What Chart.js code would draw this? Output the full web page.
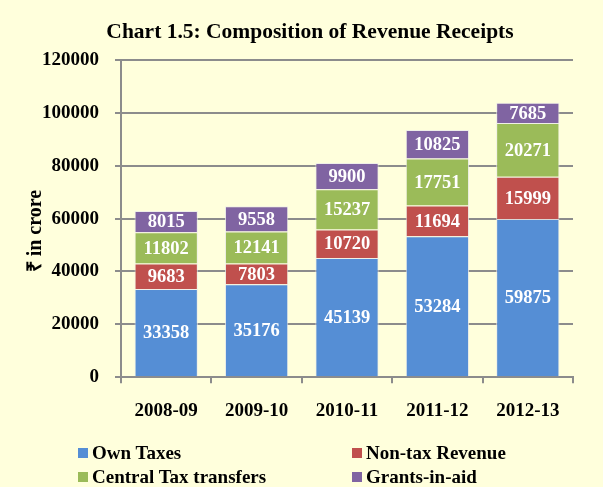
<!DOCTYPE html>
<html>
<head>
<meta charset="utf-8">
<script src="https://cdn.jsdelivr.net/npm/chart.js@4.4.1/dist/chart.umd.min.js"></script>
<style>
  body { margin: 0; background: #FFFFDC; }
  #wrap { position: relative; width: 603px; height: 487px; background: #FFFFDC; }
  #title {
    position: absolute; left: 0; top: 19px; width: 620px; text-align: center;
    font: bold 21.5px "Liberation Serif", "Times New Roman", serif; line-height: 24px; color: #000;
  }
  #legend {
    position: absolute; left: 78px; top: 441px; width: 520px;
    display: grid; grid-template-columns: 274px 240px;
    font: bold 19px "Liberation Serif", "Times New Roman", serif; color: #000;
  }
  #legend div { display: flex; align-items: center; height: 24px; white-space: nowrap; }
  #legend span.box { display: inline-block; width: 10px; height: 10px; margin-right: 4px; }
</style>
</head>
<body>
<div id="wrap">
  <canvas id="chart" width="603" height="487"></canvas>
  <div id="title">Chart 1.5: Composition of Revenue Receipts</div>
  <div id="legend"></div>
</div>
<script>
// data
const years = [ "2008-09", "2009-10", "2010-11", "2011-12", "2012-13" ];
const ownTaxes = [ 33358, 35176, 45139, 53284, 59875 ];
const nonTaxRevenue = [ 9683, 7803, 10720, 11694, 15999 ];
const centralTaxTransfers = [ 11802, 12141, 15237, 17751, 20271 ];
const grantsInAid = [ 8015, 9558, 9900, 10825, 7685 ];

const seriesNames = [ "Own Taxes", "Non-tax Revenue", "Central Tax transfers", "Grants-in-aid" ];
const seriesColors = [ "#558ED5", "#C0504D", "#9BBB59", "#8064A2" ];
const seriesValues = [ ownTaxes, nonTaxRevenue, centralTaxTransfers, grantsInAid ];

const serif = "'Liberation Serif', 'Times New Roman', serif";

// white value labels in the middle of every segment
const segmentLabels = {
  id: "segmentLabels",
  afterDatasetsDraw( chart ) {
    let ctx = chart.ctx;
    ctx.save();
    ctx.font = "bold 18.5px " + serif;
    ctx.fillStyle = "#ffffff";
    ctx.textAlign = "center";
    ctx.textBaseline = "middle";
    chart.data.datasets.forEach( ( ds, i ) => {
      chart.getDatasetMeta( i ).data.forEach( ( bar, j ) => {
        ctx.fillText( ds.data[ j ], bar.x, ( bar.y + bar.base ) / 2 + 1 );
      } );
    } );
    ctx.restore();
  }
};

let datasets = seriesNames.map( ( name, i ) => ( {
  label: name,
  data: seriesValues[ i ],
  backgroundColor: seriesColors[ i ],
  borderColor: "rgba(235,235,235,0.8)",
  borderWidth: 1,
  categoryPercentage: 0.7,
  barPercentage: 1
} ) );

new Chart( document.getElementById( "chart" ), {
  type: "bar",
  data: { labels: years, datasets: datasets },
  plugins: [ segmentLabels ],
  options: {
    responsive: false,
    animation: false,
    layout: { padding: { left: 2, right: 30, top: 60, bottom: 49 } },
    plugins: {
      legend: { display: false },
      tooltip: { enabled: false }
    },
    scales: {
      x: {
        stacked: true,
        grid: { drawOnChartArea: false, drawTicks: true, tickLength: 6, color: "#8c8c8c", lineWidth: 2 },
        border: { color: "#8c8c8c", width: 2 },
        ticks: { color: "#000", padding: 16, font: { family: serif, size: 19, weight: "bold" } }
      },
      y: {
        stacked: true,
        min: 0,
        max: 120000,
        grid: { color: "#8c8c8c", lineWidth: 2, tickLength: 6 },
        border: { color: "#8c8c8c", width: 2 },
        ticks: {
          stepSize: 20000,
          color: "#000",
          padding: 16,
          font: { family: serif, size: 19, weight: "bold" },
          callback: ( value ) => value
        },
        title: {
          display: true,
          // trailing spaces push the rotated text a little lower, as in the original
          text: "\u20B9 in crore     ",
          color: "#000",
          font: { family: serif, size: 20, weight: "bold" },
          padding: { top: 22, bottom: -22 }
        }
      }
    }
  }
} );

// two column legend like the original
let legend = document.getElementById( "legend" );
[ 0, 1, 2, 3 ].forEach( ( i ) => {
  let item = document.createElement( "div" );
  item.innerHTML = "<span class='box' style='background:" + seriesColors[ i ] + "'></span>" + seriesNames[ i ];
  legend.appendChild( item );
} );
</script>
</body>
</html>
